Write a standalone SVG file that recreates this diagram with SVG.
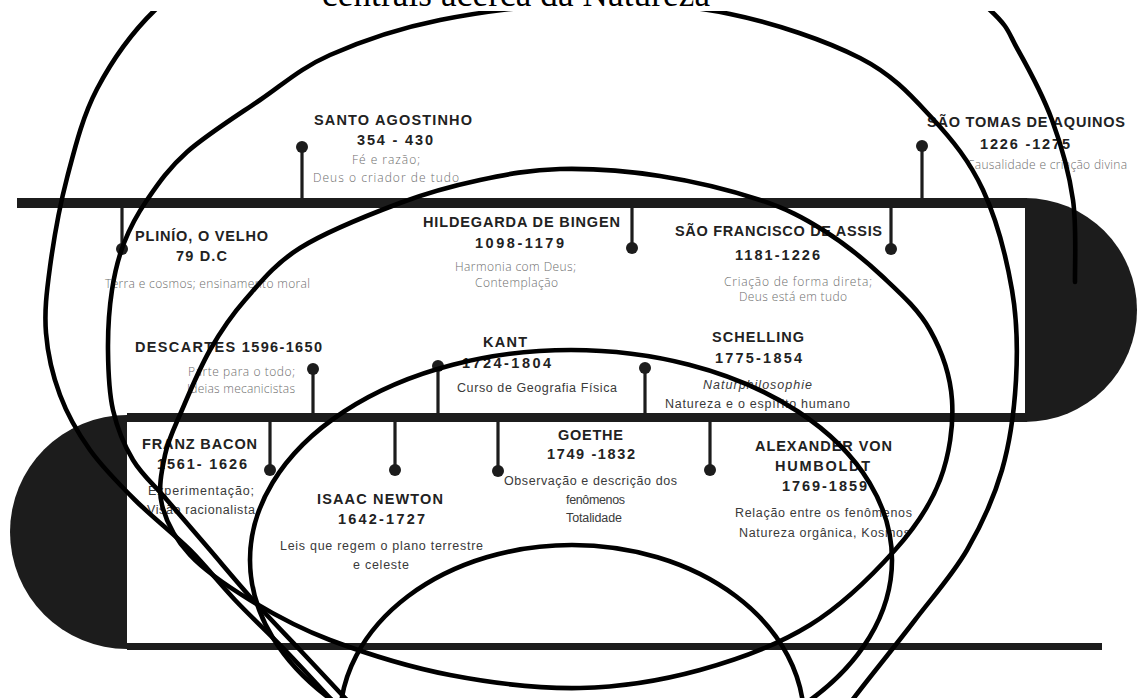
<svg xmlns="http://www.w3.org/2000/svg" width="1137" height="698" viewBox="0 0 1137 698">
<defs>
<style>
.h{font-family:"Liberation Sans",Arial,sans-serif;font-weight:700;font-size:14.5px;fill:#222;text-anchor:middle}
.l{font-family:"Open Sans","Liberation Sans",sans-serif;font-weight:300;font-size:12px;fill:#6e6e6e;text-anchor:middle}
.m{font-family:"Liberation Sans",Arial,sans-serif;font-size:12.5px;fill:#3a3a3a;text-anchor:middle}
.bar{fill:#1c1c1c}
.stem{stroke:#1c1c1c;stroke-width:3.2}
.dot{fill:#1c1c1c}
.ink{fill:none;stroke:#000;stroke-width:4.6;stroke-linecap:round}
</style>
</defs>
<rect width="1137" height="698" fill="#fff"/>
<g id="timeline">
<rect class="bar" x="17" y="198" width="1010" height="10"/>
<path class="bar" d="M1025,198 A112,112 0 0 1 1025,422 Z"/>
<rect class="bar" x="127" y="413" width="900" height="9"/>
<path class="bar" d="M127,415 A117,117 0 0 0 127,649 Z"/>
<rect class="bar" x="127" y="643" width="975" height="7"/>
</g>
<g id="connectors">
<line class="stem" x1="302" y1="200" x2="302" y2="147"/>
<line class="stem" x1="922" y1="200" x2="922" y2="146"/>
<line class="stem" x1="122" y1="206" x2="122" y2="249"/>
<line class="stem" x1="632" y1="206" x2="632" y2="248"/>
<line class="stem" x1="891" y1="206" x2="891" y2="249"/>
<line class="stem" x1="313" y1="415" x2="313" y2="369"/>
<line class="stem" x1="438" y1="415" x2="438" y2="366"/>
<line class="stem" x1="645" y1="415" x2="645" y2="368"/>
<line class="stem" x1="270" y1="420" x2="270" y2="470"/>
<line class="stem" x1="395" y1="420" x2="395" y2="470"/>
<line class="stem" x1="498" y1="420" x2="498" y2="471"/>
<line class="stem" x1="710" y1="420" x2="710" y2="470"/>
</g>
<g id="santo-agostinho">
<circle class="dot" cx="302" cy="147" r="6"/>
<text class="h" x="393" y="125" textLength="158">SANTO AGOSTINHO</text>
<text class="h" x="395" y="145" textLength="76">354 - 430</text>
<text class="l" x="386" y="164" textLength="68">Fé e razão;</text>
<text class="l" x="386" y="182" textLength="146">Deus o criador de tudo</text>
</g>
<g id="sao-tomas">
<circle class="dot" cx="922" cy="146" r="6"/>
<text class="h" x="1026" y="127" textLength="198">SÃO TOMAS DE AQUINOS</text>
<text class="h" x="1025" y="149" textLength="90">1226 -1275</text>
<text class="l" x="1047" y="169" textLength="160">Causalidade e criação divina</text>
</g>
<g id="plinio">
<circle class="dot" cx="122" cy="249" r="6"/>
<text class="h" x="201.5" y="241" textLength="133">PLINÍO, O VELHO</text>
<text class="h" x="201.5" y="261" textLength="51">79 D.C</text>
<text class="l" x="207.5" y="288" textLength="205">Terra e cosmos; ensinamento moral</text>
</g>
<g id="hildegarda">
<circle class="dot" cx="632" cy="248" r="6"/>
<text class="h" x="521.5" y="227" textLength="197">HILDEGARDA DE BINGEN</text>
<text class="h" x="519.5" y="248" textLength="89">1098-1179</text>
<text class="l" x="515.5" y="271" textLength="121">Harmonia com Deus;</text>
<text class="l" x="516.5" y="287" textLength="83">Contemplação</text>
</g>
<g id="sao-francisco">
<circle class="dot" cx="891" cy="249" r="6"/>
<text class="h" x="778.5" y="236" textLength="207">SÃO FRANCISCO DE ASSIS</text>
<text class="h" x="777.5" y="260" textLength="85">1181-1226</text>
<text class="l" x="798" y="286" textLength="148">Criação de forma direta;</text>
<text class="l" x="793" y="301" textLength="108">Deus está em tudo</text>
</g>
<g id="descartes">
<circle class="dot" cx="313" cy="369" r="6"/>
<text class="h" x="228.5" y="352" textLength="187">DESCARTES 1596-1650</text>
<text class="l" x="241.5" y="376" textLength="107">Parte para o todo;</text>
<text class="l" x="241" y="393" textLength="108">Ideias mecanicistas</text>
</g>
<g id="kant">
<circle class="dot" cx="438" cy="366" r="6"/>
<text class="h" x="505" y="347" textLength="44">KANT</text>
<text class="h" x="506.5" y="368" textLength="89">1724-1804</text>
<text class="m" x="537" y="392" textLength="160">Curso de Geografia Física</text>
</g>
<g id="schelling">
<circle class="dot" cx="645" cy="368" r="6"/>
<text class="h" x="758" y="342" textLength="92">SCHELLING</text>
<text class="h" x="758.5" y="363" textLength="87">1775-1854</text>
<text class="m" x="757.5" y="389" textLength="109" font-style="italic">Naturphilosophie</text>
<text class="m" x="757.5" y="408" textLength="185">Natureza e o espírito humano</text>
</g>
<g id="bacon">
<circle class="dot" cx="270" cy="470" r="6"/>
<text class="h" x="199.5" y="449" textLength="115">FRANZ BACON</text>
<text class="h" x="202" y="469" textLength="90">1561- 1626</text>
<text class="m" x="201" y="495" textLength="106">Experimentação;</text>
<text class="m" x="201" y="514" textLength="108">Visão racionalista</text>
</g>
<g id="newton">
<circle class="dot" cx="395" cy="470" r="6"/>
<text class="h" x="380" y="504" textLength="126">ISAAC NEWTON</text>
<text class="h" x="381.5" y="524" textLength="87">1642-1727</text>
<text class="m" x="381.5" y="550" textLength="203">Leis que regem o plano terrestre</text>
<text class="m" x="381" y="569" textLength="56">e celeste</text>
</g>
<g id="goethe">
<circle class="dot" cx="498" cy="471" r="6"/>
<text class="h" x="590.5" y="440" textLength="65">GOETHE</text>
<text class="h" x="591" y="459" textLength="88">1749 -1832</text>
<text class="m" x="590.5" y="485" textLength="173">Observação e descrição dos</text>
<text class="m" x="595.5" y="504" textLength="59">fenômenos</text>
<text class="m" x="594" y="522" textLength="56">Totalidade</text>
</g>
<g id="humboldt">
<circle class="dot" cx="710" cy="470" r="6"/>
<text class="h" x="823.5" y="451" textLength="137">ALEXANDER VON</text>
<text class="h" x="822.5" y="471" textLength="95">HUMBOLDT</text>
<text class="h" x="824.5" y="491" textLength="85">1769-1859</text>
<text class="m" x="823.5" y="517" textLength="177">Relação entre os fenômenos</text>
<text class="m" x="824.5" y="537" textLength="171">Natureza orgânica, Kosmos</text>
</g>
<g id="overlay" class="ink">
<path d="M1075,282 C1074.7,268.3 1076.8,227 1073,200 S1061.2,145 1052,120 S1028.3,68.3 1018,50 S1009.7,28.3 990,10 S971.7,-40 900,-60 S668.3,-110 560,-110 S317.5,-80 250,-60 S180.5,-14.8 155,10 S111.7,61 97,89 S74.8,148.3 67,178 S53.5,241.2 50,267 S44.3,311.7 46,333 S52.7,375.5 60,395 S77.5,432.5 90,450 S118.3,483.3 135,500 S173.3,533.3 190,550 S219.2,583.3 235,600 S269.2,633.7 285,650 S317.5,684.7 330,698 S355,724.7 360,730"/>
<path d="M375,730 C370,724.7 357.5,711.3 345,698 S315.3,666.3 300,650 S268,616.7 253,600 S224.3,566.7 210,550 S179.8,515 167,500 S142,475 133,460 S117.2,428.3 113,410 S108.2,370 108,350 S109.3,307.8 112,290 S118.2,258 124,243 S136.5,215.2 147,200 S168.2,168.7 187,152 S236.2,116.2 260,100 S300,68.3 330,55 S396.7,28.7 440,20 S541.7,4 590,3 S685,4.8 730,14 S826.3,40.7 860,58 S911.5,96 932,118 S969.7,161.3 983,190 S1006.5,258.3 1012,290 S1017.7,350 1016,380 S1010.2,441.7 1002,470 S981.5,525 967,550 S932.8,596.7 915,620 S874.2,671.7 860,690 S835,723.3 830,730"/>
<path d="M560,169 C590,168.3 626.7,170.8 660,176 S732.8,191 760,200 S802.5,217.2 823,230 S865.2,260.3 883,277 S918.5,309.5 930,330 S950.3,375 952,400 S949.5,455 940,480 S916.7,525.8 895,550 S842.5,605 810,625 S738.3,659.5 700,670 S621.7,687.2 580,688 S491.7,683 450,675 S363.3,652.5 330,640 S273.3,614.2 250,600 S204.7,570.8 190,555 S166.2,521.7 162,505 S161.7,470.8 165,455 S174.5,427.5 182,410 S199.5,368.3 210,350 S230,317 245,300 S274.2,264.2 300,248 S370,214.3 400,203 S453.3,185.7 480,180 S530,169.7 560,169 Z"/>
<ellipse cx="571" cy="560" rx="321" ry="210"/>
<ellipse cx="572" cy="720" rx="232" ry="175"/>
</g>
<g id="title">
<rect x="0" y="0" width="1137" height="11" fill="#fff"/>
<text x="516" y="6" font-family="'Liberation Serif','Times New Roman',serif" font-size="35" fill="#000" text-anchor="middle" textLength="388">centrais acerca da Natureza</text>
</g>
</svg>
